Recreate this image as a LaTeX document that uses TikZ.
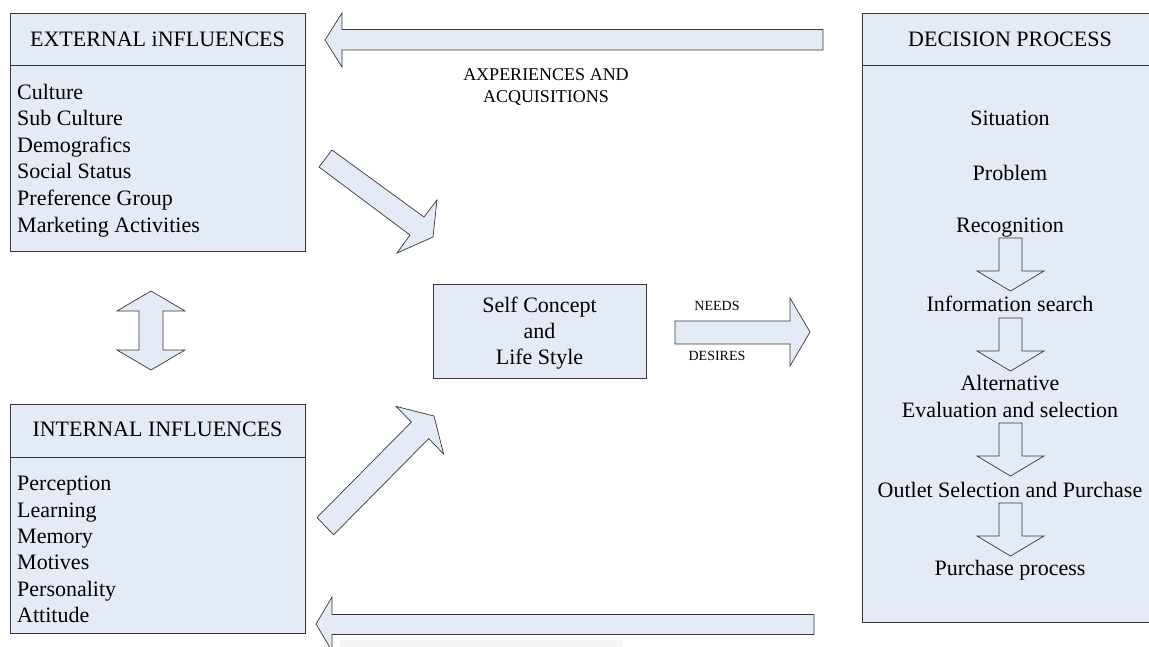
\documentclass[tikz,border=0pt]{standalone}
\usepackage{fontspec}
\setmainfont{Liberation Serif}
\definecolor{boxfill}{RGB}{229,235,246}
\definecolor{edgecol}{RGB}{55,55,55}
\tikzset{
  panel/.style={draw=edgecol, fill=boxfill, line width=0.8pt, inner sep=0pt, anchor=north west},
  blockarrow/.style={draw=edgecol, fill=boxfill, line width=0.7pt, line join=miter},
  sepline/.style={draw=edgecol, line width=0.8pt},
  txt/.style={inner sep=0pt, anchor=base, font=\fontsize{22}{26}\selectfont},
  item/.style={txt, anchor=base west},
  midtxt/.style={inner sep=0pt, anchor=base, font=\fontsize{18}{21}\selectfont},
  smalltxt/.style={inner sep=0pt, anchor=base, font=\fontsize{14}{16}\selectfont},
  darrow/.pic={\draw[blockarrow] (-11.5,0) -- (11.5,0) -- (11.5,33) -- (33.5,33) -- (0,53) -- (-33.5,33) -- (-11.5,33) -- cycle;}
}
\begin{document}
\begin{tikzpicture}[x=1pt,y=-1pt]
\useasboundingbox (0,0) rectangle (1149,646);
\clip (0,0) rectangle (1149,646);

% faint grey smear under bottom arrow
\fill[gray!8] (340,640) rectangle (623,650);

% External influences box
\node[panel, minimum width=295pt, minimum height=238pt] (ext) at (10,13) {};
\draw[sepline] ([yshift=-52pt]ext.north west) -- ([yshift=-52pt]ext.north east);
\node[txt] (exth) at (157.5,46) {EXTERNAL iNFLUENCES};
\node[item] (e1) at (17,99) {Culture};
\node[item] (e2) at (17,125.6) {Sub Culture};
\node[item] (e3) at (17,152.2) {Demografics};
\node[item] (e4) at (17,178.8) {Social Status};
\node[item] (e5) at (17,205.4) {Preference Group};
\node[item] (e6) at (17,232) {Marketing Activities};

% Internal influences box
\node[panel, minimum width=295pt, minimum height=229pt] (int) at (10,404) {};
\draw[sepline] ([yshift=-53pt]int.north west) -- ([yshift=-53pt]int.north east);
\node[txt] (inth) at (157.5,436.7) {INTERNAL INFLUENCES};
\node[item] (i1) at (17,490.7) {Perception};
\node[item] (i2) at (17,517.1) {Learning};
\node[item] (i3) at (17,543.5) {Memory};
\node[item] (i4) at (17,569.9) {Motives};
\node[item] (i5) at (17,596.3) {Personality};
\node[item] (i6) at (17,622.7) {Attitude};

% Decision process box (its right side runs off the picture)
\node[panel, minimum width=330pt, minimum height=609pt] (dec) at (862,13) {};
\draw[sepline] ([yshift=-52pt]dec.north west) -- ([yshift=-52pt]dec.north east);
\node[txt] (dech) at (1010,46) {DECISION PROCESS};
\node[txt] (d1) at (1010,125) {Situation};
\node[txt] (d2) at (1010,180) {Problem};
\node[txt] (d3) at (1010,232) {Recognition};
\node[txt] (d4) at (1010,311) {Information search};
\node[txt] (d5) at (1010,390) {Alternative};
\node[txt] (d6) at (1010,417) {Evaluation and selection};
\node[txt] (d7) at (1010,497) {Outlet Selection and Purchase};
\node[txt] (d8) at (1010,575) {Purchase process};
\pic at (1010.5,238) {darrow};
\pic at (1010.5,318) {darrow};
\pic at (1010.5,423) {darrow};
\pic at (1010.5,503) {darrow};

% Self concept box
\node[panel, minimum width=213pt, minimum height=94pt] (self) at (433,284) {};
\node[txt] (s1) at (539.5,312) {Self Concept};
\node[txt] (s2) at (539.5,338) {and};
\node[txt] (s3) at (539.5,364) {Life Style};

% Top arrow (decision -> external)
\draw[blockarrow] (325,40) -- (342,13) -- (342,29.5) -- (823,29.5) -- (823,50) -- (342,50) -- (342,67) -- cycle;
\node[midtxt] (ax1) at (546,80.7) {AXPERIENCES AND};
\node[midtxt] (ax2) at (546,102) {ACQUISITIONS};

% Bottom arrow (decision -> internal)
\draw[blockarrow] (316,624) -- (332,597) -- (332,614.5) -- (814,614.5) -- (814,634.5) -- (332,634.5) -- (332,651) -- cycle;

% Double vertical arrow
\draw[blockarrow] (151,291) -- (185,311) -- (163,311) -- (163,350) -- (185,350) -- (151,370) -- (117,350) -- (139,350) -- (139,311) -- (117,311) -- cycle;

% Diagonal arrow external -> self
\draw[blockarrow] (332,150) -- (424,217) -- (437,200) -- (433,237) -- (397,253) -- (410,235) -- (319,167) -- cycle;

% Diagonal arrow internal -> self
\draw[blockarrow] (317,517.5) -- (411.4,422) -- (396,406.4) -- (434,416) -- (443.6,454) -- (428.7,438.6) -- (333.6,534.8) -- cycle;

% Needs / desires arrow
\draw[blockarrow] (675,321) -- (790,321) -- (790,298) -- (810,332) -- (790,366) -- (790,344) -- (675,344) -- cycle;
\node[smalltxt] (needs) at (717,310) {NEEDS};
\node[smalltxt] (desires) at (717,360) {DESIRES};
\end{tikzpicture}
\end{document}
